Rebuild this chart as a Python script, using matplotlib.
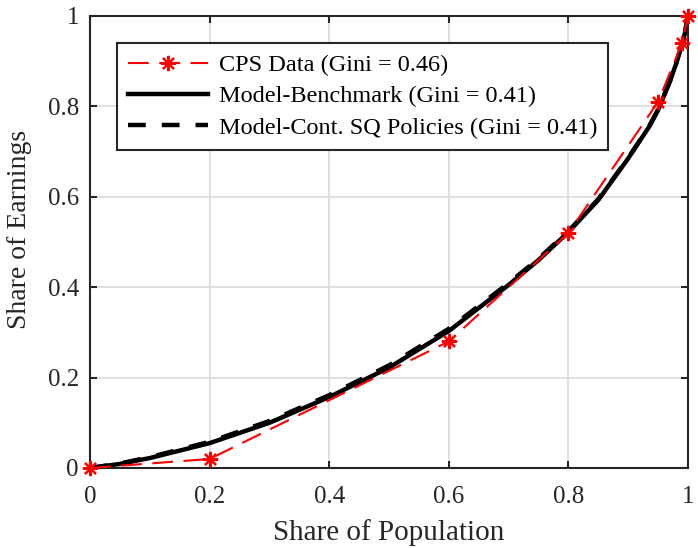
import numpy as np
import matplotlib.pyplot as plt

plt.rcParams['font.family'] = ['Liberation Serif', 'DejaVu Serif']

# CPS data points (share of population, share of earnings)
cps_x = [0.0, 0.2, 0.6, 0.8, 0.95, 0.99, 1.0]
cps_y = [0.0, 0.02, 0.28, 0.52, 0.81, 0.94, 1.0]

# Model Lorenz curves
pop = [0.0, 0.05, 0.1, 0.2, 0.3, 0.4, 0.5, 0.6, 0.7, 0.75, 0.8, 0.85, 0.9,
       0.935, 0.95, 0.97, 0.98, 0.99, 0.995, 1.0]
bench = [0.0, 0.009, 0.022, 0.055, 0.100, 0.157, 0.222, 0.303, 0.405, 0.460, 0.522,
         0.593, 0.685, 0.755, 0.792, 0.856, 0.894, 0.937, 0.963, 1.0]
sq = [0.0, 0.010, 0.024, 0.058, 0.104, 0.161, 0.227, 0.308, 0.409, 0.463, 0.524,
      0.595, 0.686, 0.756, 0.793, 0.857, 0.895, 0.938, 0.964, 1.0]

fig = plt.figure(figsize=(6.98, 5.48), dpi=100)
ax = fig.add_axes([90/698, 80/548, 598/698, 452/548])

ax.plot(cps_x, cps_y, '--', color='red', lw=1.5, dashes=(10, 5),
        marker=(8, 2, 0), ms=11, mew=1.6, label='CPS Data (Gini = 0.46)',
        clip_on=False, zorder=3)
ax.plot(pop, bench, '-', color='black', lw=3.2, label='Model-Benchmark (Gini = 0.41)', zorder=2)
ax.plot(pop, sq, '--', color='black', lw=3.2, dashes=(4, 3.6),
        label='Model-Cont. SQ Policies (Gini = 0.41)', zorder=2)

ax.set_xlim(0, 1)
ax.set_ylim(0, 1)
ticks = [0, 0.2, 0.4, 0.6, 0.8, 1]
ticklabels = ['0', '0.2', '0.4', '0.6', '0.8', '1']
ax.set_xticks(ticks)
ax.set_xticklabels(ticklabels)
ax.set_yticks(ticks)
ax.set_yticklabels(ticklabels)
ax.tick_params(direction='in', length=5, width=1.5, labelsize=18, colors='#262626',
               top=True, right=True)
ax.tick_params(axis='x', pad=13)
ax.tick_params(axis='y', pad=8)
ax.grid(True, color='#dddddd', lw=1.3)
for s in ax.spines.values():
    s.set_linewidth(1.5)
    s.set_color('#262626')

ax.set_xlabel('Share of Population', fontsize=21, color='#262626')
ax.set_ylabel('Share of Earnings', fontsize=20, color='#262626')
ax.xaxis.set_label_coords(0.5, -0.112)
ax.yaxis.set_label_coords(-0.097, 0.527)

leg = ax.legend(loc='upper left', bbox_to_anchor=(0.045, 0.94), borderaxespad=0,
                fontsize=17.5, frameon=True, fancybox=False, edgecolor='#262626',
                framealpha=1, handlelength=3.3, borderpad=0.45, labelspacing=0.38,
                handletextpad=0.45)
leg.get_frame().set_linewidth(1.5)

plt.savefig('out.png', dpi=100)
